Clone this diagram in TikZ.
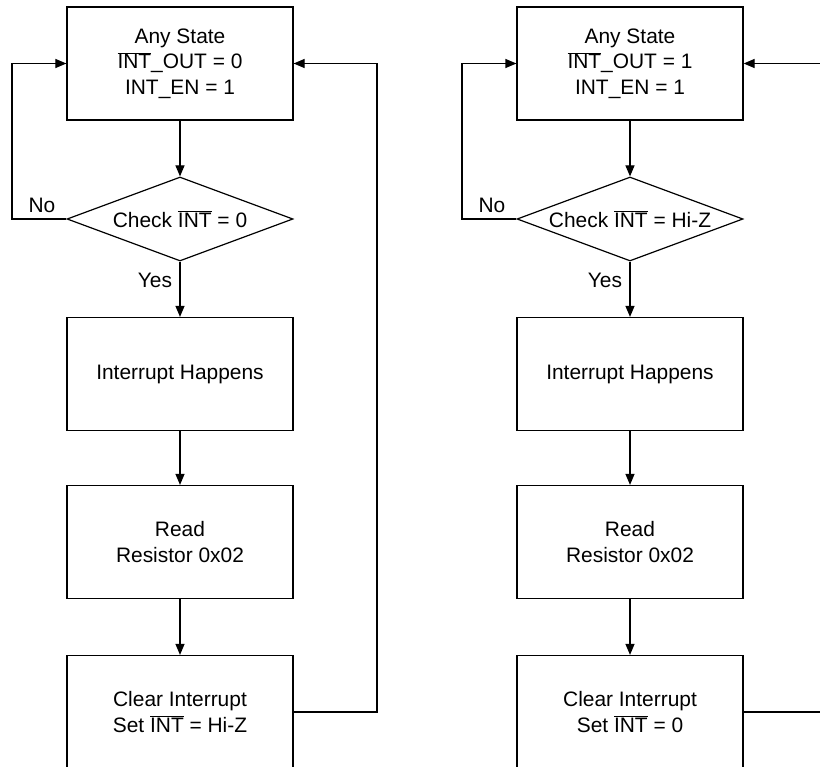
\documentclass[tikz,border=0pt]{standalone}
\usepackage{fontspec}
\setmainfont{Liberation Sans}
\usetikzlibrary{arrows.meta,shapes.geometric}
\newcommand{\ob}[1]{$\overline{\mbox{#1}}$}
\begin{document}
\begin{tikzpicture}[x=1bp,y=-1bp,
  every node/.style={font=\fontsize{21}{25.5}\selectfont},
  box/.style={draw,line width=1.2bp,minimum width=226bp,minimum height=113bp,inner sep=0pt,align=center},
  dia/.style={draw,line width=1.2bp,shape=diamond,minimum width=226bp,minimum height=84bp,inner sep=0pt,aspect=2.7},
  arr/.style={line width=1.2bp,-{Triangle[length=11bp,width=9bp]}},
  ln/.style={line width=1.2bp}]
\useasboundingbox (0,0) rectangle (820,767);
% left flowchart
\node[box] (t1) at (180,63.5) {Any State\\\ob{INT}\_OUT = 0\\INT\_EN = 1};
\node[dia,label={center:Check \ob{INT} = 0}] (d1) at (180,219) {};
\node[box] (i1) at (180,374) {Interrupt Happens};
\node[box] (r1) at (180,542) {Read\\Resistor 0x02};
\node[box] (c1) at (180,712) {Clear Interrupt\\Set \ob{INT} = Hi-Z};
\coordinate (l1) at (12,219);
\coordinate (rr1) at (377,712);
\draw[arr] (t1) -- (d1);
\draw[arr] (d1) -- (i1);
\draw[arr] (i1) -- (r1);
\draw[arr] (r1) -- (c1);
\draw[arr] (d1.west) -- (l1) |- (t1.west);
\draw[arr] (c1.east) -- (rr1) |- (t1.east);
\node (no1) at (42,205) {No};
\node (yes1) at (155,280) {Yes};
% right flowchart
\node[box] (t2) at (630,63.5) {Any State\\\ob{INT}\_OUT = 1\\INT\_EN = 1};
\node[dia,label={center:Check \ob{INT} = Hi-Z}] (d2) at (630,219) {};
\node[box] (i2) at (630,374) {Interrupt Happens};
\node[box] (r2) at (630,542) {Read\\Resistor 0x02};
\node[box] (c2) at (630,712) {Clear Interrupt\\Set \ob{INT} = 0};
\coordinate (l2) at (462,219);
\coordinate (rr2) at (827,712);
\draw[arr] (t2) -- (d2);
\draw[arr] (d2) -- (i2);
\draw[arr] (i2) -- (r2);
\draw[arr] (r2) -- (c2);
\draw[arr] (d2.west) -- (l2) |- (t2.west);
\draw[arr] (c2.east) -- (rr2) |- (t2.east);
\node (no2) at (492,205) {No};
\node (yes2) at (605,280) {Yes};
\end{tikzpicture}
\end{document}
